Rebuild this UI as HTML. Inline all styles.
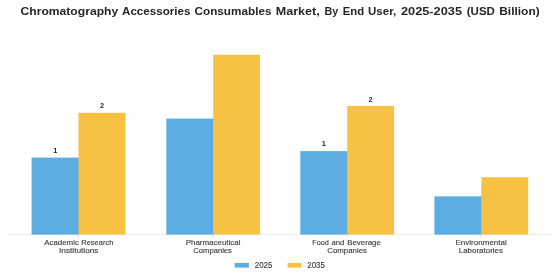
<!DOCTYPE html>
<html><head><meta charset="utf-8"><style>
html,body{margin:0;padding:0;background:#fff;width:560px;height:280px;overflow:hidden}
svg{display:block;filter:blur(0.35px)}
text{font-family:"Liberation Sans",sans-serif}
.t{font-weight:bold;font-size:11px;fill:#262626}
.xl{font-size:7.2px;fill:#3a3a3a;stroke:#3a3a3a;stroke-width:0.12px}
.v{font-weight:bold;font-size:7.3px;fill:#262626}
.lg{font-size:8.4px;fill:#3a3a3a;stroke:#3a3a3a;stroke-width:0.12px}
</style></head><body>
<svg width="560" height="280" viewBox="0 0 560 280">
<line x1="8" y1="234.6" x2="553" y2="234.6" stroke="#ebebeb" stroke-width="1"/>
<rect x="31.60" y="157.6" width="47.50" height="77.00" fill="#5DADE2"/>
<rect x="78.50" y="112.8" width="46.9" height="121.80" fill="#F7C144"/>
<rect x="166.30" y="118.6" width="47.50" height="116.00" fill="#5DADE2"/>
<rect x="213.20" y="54.75" width="46.9" height="179.85" fill="#F7C144"/>
<rect x="300.30" y="151.1" width="47.50" height="83.50" fill="#5DADE2"/>
<rect x="347.20" y="106.0" width="46.9" height="128.60" fill="#F7C144"/>
<rect x="434.40" y="196.35" width="47.50" height="38.25" fill="#5DADE2"/>
<rect x="481.30" y="177.25" width="46.9" height="57.35" fill="#F7C144"/>
<line x1="78.50" y1="234.6" x2="78.50" y2="237.60" stroke="#d0d0d0" stroke-width="0.8"/>
<line x1="213.20" y1="234.6" x2="213.20" y2="237.60" stroke="#d0d0d0" stroke-width="0.8"/>
<line x1="347.20" y1="234.6" x2="347.20" y2="237.60" stroke="#d0d0d0" stroke-width="0.8"/>
<line x1="481.30" y1="234.6" x2="481.30" y2="237.60" stroke="#d0d0d0" stroke-width="0.8"/>
<rect x="234.6" y="262.9" width="14.3" height="4.7" fill="#5DADE2"/>
<rect x="287.6" y="262.9" width="13.8" height="4.7" fill="#F7C144"/>
<text x="20.50" y="14.50" class="t" textLength="97.69" lengthAdjust="spacingAndGlyphs">Chromatography</text>
<text x="122.00" y="14.50" class="t" textLength="68.38" lengthAdjust="spacingAndGlyphs">Accessories</text>
<text x="194.50" y="14.50" class="t" textLength="76.95" lengthAdjust="spacingAndGlyphs">Consumables</text>
<text x="275.75" y="14.50" class="t" textLength="44.01" lengthAdjust="spacingAndGlyphs">Market,</text>
<text x="324.50" y="14.50" class="t" textLength="13.81" lengthAdjust="spacingAndGlyphs">By</text>
<text x="342.75" y="14.50" class="t" textLength="21.32" lengthAdjust="spacingAndGlyphs">End</text>
<text x="368.00" y="14.50" class="t" textLength="28.23" lengthAdjust="spacingAndGlyphs">User,</text>
<text x="401.00" y="14.50" class="t" textLength="61.00" lengthAdjust="spacingAndGlyphs">2025-2035</text>
<text x="466.75" y="14.50" class="t" textLength="28.19" lengthAdjust="spacingAndGlyphs">(USD</text>
<text x="499.25" y="14.50" class="t" textLength="40.39" lengthAdjust="spacingAndGlyphs">Billion)</text>
<text x="44.25" y="244.90" class="xl" textLength="34.59" lengthAdjust="spacingAndGlyphs">Academic</text>
<text x="81.25" y="244.90" class="xl" textLength="32.08" lengthAdjust="spacingAndGlyphs">Research</text>
<text x="59.00" y="253.10" class="xl" textLength="39.49" lengthAdjust="spacingAndGlyphs">Institutions</text>
<text x="185.75" y="244.90" class="xl" textLength="54.66" lengthAdjust="spacingAndGlyphs">Pharmaceutical</text>
<text x="193.25" y="253.10" class="xl" textLength="38.65" lengthAdjust="spacingAndGlyphs">Companies</text>
<text x="312.25" y="244.90" class="xl" textLength="16.65" lengthAdjust="spacingAndGlyphs">Food</text>
<text x="331.50" y="244.90" class="xl" textLength="12.82" lengthAdjust="spacingAndGlyphs">and</text>
<text x="347.25" y="244.90" class="xl" textLength="33.60" lengthAdjust="spacingAndGlyphs">Beverage</text>
<text x="327.25" y="253.10" class="xl" textLength="39.67" lengthAdjust="spacingAndGlyphs">Companies</text>
<text x="455.50" y="244.90" class="xl" textLength="51.32" lengthAdjust="spacingAndGlyphs">Environmental</text>
<text x="458.75" y="253.10" class="xl" textLength="44.30" lengthAdjust="spacingAndGlyphs">Laboratories</text>
<text x="254.75" y="267.60" class="lg" textLength="17.54" lengthAdjust="spacingAndGlyphs">2025</text>
<text x="307.25" y="267.60" class="lg" textLength="17.54" lengthAdjust="spacingAndGlyphs">2035</text>
<text x="53.25" y="152.75" class="v">1</text>
<text x="100.12" y="107.75" class="v">2</text>
<text x="321.75" y="146.25" class="v">1</text>
<text x="368.38" y="101.90" class="v">2</text>
</svg>
</body></html>
